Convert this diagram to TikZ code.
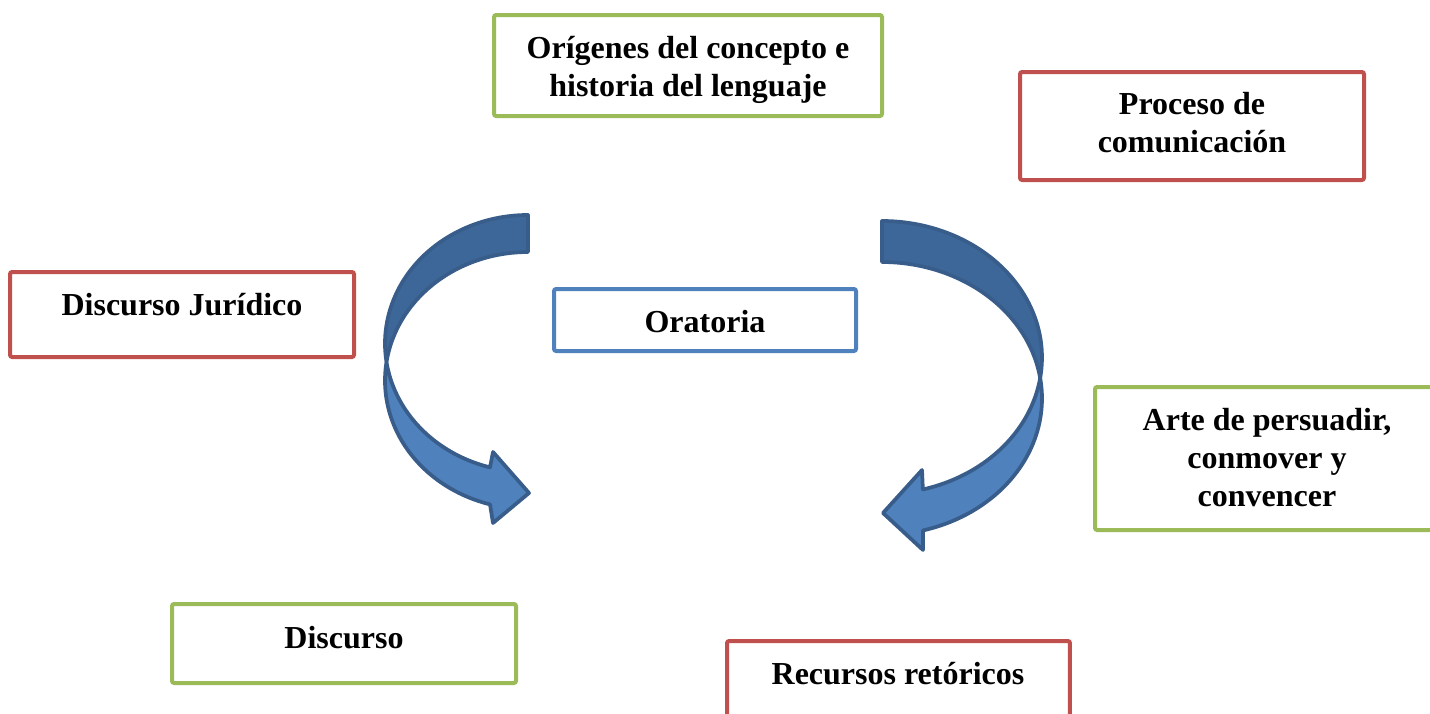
\documentclass[tikz,border=0pt]{standalone}
\usepackage{fontspec}
\setmainfont{Liberation Serif}
\definecolor{boxred}{HTML}{C0504D}
\definecolor{boxgreen}{HTML}{9BBB59}
\definecolor{boxblue}{HTML}{4F81BD}
\definecolor{arrowdark}{HTML}{3E6799}
\definecolor{arrowlight}{HTML}{4F81BD}
\definecolor{arrowline}{HTML}{385D8A}
\begin{document}
\begin{tikzpicture}[x=0.375pt,y=-0.375pt,
  box/.style={draw, line width=1.5pt, rounded corners=0.8pt, fill=white, inner sep=0pt},
  lbl/.style={font=\bfseries\fontsize{12}{14.25}\selectfont, align=center, anchor=base, inner sep=0pt},
  arrowback/.style={fill=arrowdark, draw=arrowline, line width=1.4pt, line join=round},
  arrowfront/.style={fill=arrowlight, draw=arrowline, line width=1.4pt, line join=round}]
\useasboundingbox (0,0) rectangle (1430,714);
\clip (0,0) rectangle (1430,714);
\fill[white] (0,0) rectangle (1430,714);

% boxes
\node[box, draw=boxgreen, minimum width=145.5pt, minimum height=37.875pt] (origenes) at (688,65.5) {};
\node[box, draw=boxred, minimum width=129pt, minimum height=40.5pt] (proceso) at (1192,126) {};
\node[box, draw=boxred, minimum width=129pt, minimum height=31.875pt] (juridico) at (182,314.5) {};
\node[box, draw=boxblue, minimum width=113.25pt, minimum height=23.25pt] (oratoria) at (705,320) {};
\node[box, draw=boxgreen, minimum width=129pt, minimum height=53.625pt] (arte) at (1267,458.5) {};
\node[box, draw=boxgreen, minimum width=129pt, minimum height=29.625pt] (discurso) at (344,643.5) {};
\node[box, draw=boxred, minimum width=128.6pt, minimum height=29.625pt] (recursos) at (898.5,680.5) {};

% labels (base = baseline of the last line)
\node[lbl] (torigenes) at (688,96) {Orígenes del concepto e\\historia del lenguaje};
\node[lbl] (tproceso) at (1192,153) {Proceso de\\comunicación};
\node[lbl] (tjuridico) at (182,315) {Discurso Jurídico};
\node[lbl] (toratoria) at (705,332) {Oratoria};
\node[lbl] (tarte) at (1267,506) {Arte de persuadir,\\conmover y\\convencer};
\node[lbl] (tdiscurso) at (344,648) {Discurso};
\node[lbl] (trecursos) at (898,684) {Recursos retóricos};

% left curved arrow (two equal ellipses offset vertically)
\draw[arrowback] plot[domain=-90:-188.28, samples=50, variable=\t] ({528+143*cos(\t)},{343.5+128.5*sin(\t)})
  -- plot[domain=-171.72:-90, samples=50, variable=\t] ({528+143*cos(\t)},{380.5+128.5*sin(\t)}) -- cycle;
\draw[arrowfront] plot[domain=188.28:105.4, samples=50, variable=\t] ({528+143*cos(\t)},{380.5+128.5*sin(\t)})
  -- (493,523) -- (529,493) -- (493,452)
  -- plot[domain=105.4:171.72, samples=50, variable=\t] ({528+143*cos(\t)},{343.5+128.5*sin(\t)}) -- cycle;

% right curved arrow
\draw[arrowback] plot[domain=-90:8.64, samples=50, variable=\t] ({882+160*cos(\t)},{357.5+136.5*sin(\t)})
  -- plot[domain=-8.64:-90, samples=50, variable=\t] ({882+160*cos(\t)},{398.5+136.5*sin(\t)}) -- cycle;
\draw[arrowfront] plot[domain=-8.64:75.2, samples=50, variable=\t] ({882+160*cos(\t)},{398.5+136.5*sin(\t)})
  -- (923,550) -- (883,513) -- (922,470)
  -- plot[domain=75.2:8.64, samples=50, variable=\t] ({882+160*cos(\t)},{357.5+136.5*sin(\t)}) -- cycle;
\end{tikzpicture}
\end{document}
